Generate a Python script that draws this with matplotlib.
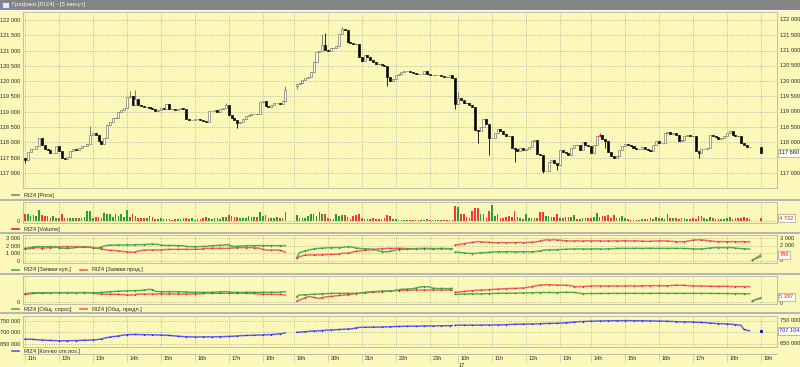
import numpy as np
import matplotlib
matplotlib.use("Agg")
import matplotlib.pyplot as plt
import matplotlib.transforms as mtransforms
from matplotlib.lines import Line2D
from matplotlib.patches import Rectangle

plt.rcParams['font.family'] = ['Liberation Sans', 'DejaVu Sans']

# ======================= DATA =======================
title_text = "Графики [RIZ4] - [5 минут]"
hour_labels = ["11h", "12h", "13h", "14h", "15h", "16h", "17h", "18h", "19h", "20h", "21h", "22h", "23h",
               "10h", "11h", "12h", "13h", "14h", "15h", "16h", "17h", "18h", "19h"]
date_label = "17"

# 5-minute candles: close prices per session (day 1, evening, day 2) + last candle
day1_close = [
    117420, 117700, 117790, 117800, 117870, 118130, 117920, 117790, 117760, 117650,
    117660, 117870, 117720, 117500, 117470, 117520, 117710, 117780, 117740, 117820,
    117870, 117880, 117950, 118250, 118300, 118250, 118040, 117950, 118130, 118560,
    118660, 118800, 118790, 119000, 119060, 119130, 119480, 119500, 119230, 119420,
    119220, 119180, 119150, 119160, 119120, 119080, 119030, 119060, 119110, 119090,
    119260, 119100, 119080, 119050, 119100, 119130, 119090, 118760, 118720, 118720,
    118760, 118770, 118740, 118690, 118680, 119010, 119040, 119070, 118990, 119100,
    119140, 119220, 118900, 118800, 118730, 118640, 118680, 118750, 118850, 118890,
    118930, 118940, 118920, 119320, 119340, 119180, 119150, 119230, 119290, 119300,
    119260, 119340, 119700]
eve_close = [
    119920, 119950, 120030, 120100, 120150, 120300, 120620, 120950, 121000, 121170,
    121030, 121000, 121080, 121100, 121160, 121550, 121700, 121680, 121270, 121250,
    121230, 121200, 120780, 120670, 120840, 120780, 120700, 120620, 120560, 120550,
    120520, 120510, 120150, 120020, 120060, 120200, 120250, 120300, 120320, 120330,
    120310, 120260, 120230, 120220, 120240, 120330, 120230, 120200, 120200, 120190,
    120190, 120170, 120140, 120130, 120200, 120120]
day2_close = [
    119240, 119450, 119400, 119300, 119280, 119210, 119150, 118420, 118370, 118500,
    118750, 118590, 118150, 118150, 118300, 118450, 118370, 118270, 118220, 118200,
    117820, 117780, 117710, 117820, 117760, 117780, 117850, 118030, 118090, 117620,
    117600, 117050, 117080, 117350, 117410, 117330, 117270, 117760, 117700, 117650,
    117600, 117820, 117930, 117920, 117760, 118000, 117920, 117870, 117650, 117920,
    118200, 118250, 118100, 118030, 117700, 117540, 117490, 117540, 117760, 117870,
    117960, 117920, 117870, 117820, 117780, 117780, 117850, 117780, 117760, 117710,
    117920, 118030, 117980, 117980, 118300, 118330, 118280, 118300, 118250, 118030,
    118090, 118220, 118250, 118220, 118200, 117710, 117670, 117780, 117780, 117820,
    118250, 118220, 118170, 118110, 118140, 118200, 118300, 118360, 118250, 118220,
    118200, 117980, 117920, 117850, 117850]
session_open = [117500, 119840, 120120]
last_open, last_close = 117840, 117660
# long shadows that stand out (candle number: (high, low))
shadows = {0: (None, 117330), 23: (118530, None), 37: (119670, None), 39: (119720, None),
           71: (119290, None), 75: (None, 118470), 92: (119850, None), 96: (None, 119730),
           105: (121540, None), 106: (121580, None), 112: (121780, None), 128: (None, 119840),
           152: (None, 119080), 153: (119650, None), 160: (None, 117990), 164: (None, 117600),
           173: (None, 117350), 183: (None, 117000), 188: (None, 117100), 203: (118320, None),
           205: (None, 117830), 238: (None, 117480)}
marked_candle = 203

# volume
day1_volume = [
    11800, 13000, 8900, 10600, 8900, 18900, 10600, 8900, 8900, 4700,
    8900, 5900, 4700, 13000, 5900, 5900, 4700, 5900, 5900,
    4700, 5900, 7100, 17700, 17700, 4700, 7100, 7100, 5900, 14800,
    13000, 13000, 7100, 13000, 8900, 11800, 7100, 18900, 7100,
    11800, 8900, 5900, 4700, 4700, 5900, 8900, 7100, 3000, 3000,
    4700, 3000, 3000, 3000, 2400, 3000, 3000, 3000, 5900,
    4700, 3000, 4700, 2400, 3000, 3000, 4700, 7100, 4700, 3000,
    5900, 4700, 3000, 7100, 7100, 10600, 8900, 7100, 7100,
    5900, 4700, 5900, 8900, 7100, 7100, 7100, 16500, 8900, 10600,
    5900, 4700, 5900, 7100, 4700, 5900, 16500]
eve_volume = [
    10600, 5900, 4700, 5900, 8900, 11800, 11800, 8900, 16500, 13000,
    11800, 4700, 3000, 3000, 11800, 8900, 10600, 10600, 7100, 3000,
    8900, 10600, 13000, 5900, 3000, 3000, 3000, 4700, 3000, 3000,
    3000, 4700, 10600, 8900, 3000, 3000, 1800, 1800, 1800, 2400,
    1800, 1800, 1800, 2400, 1800, 1800, 3000, 1800, 1800, 1800,
    2400, 1800, 1800, 1800, 2400, 1800]
day2_volume = [
    26600, 24800, 11800, 11800, 7100, 5900, 17700, 23600, 22400, 11800,
    11800, 5900, 17700, 28300, 8900, 11800, 4700, 5900, 7100, 8900,
    7100, 17700, 7100, 5900, 3000, 11800, 4700, 5900, 4700, 5900,
    16500, 16500, 8900, 8900, 7100, 7100, 13000, 5900, 4700, 7100,
    7100, 7100, 10600, 3000, 3000, 5900, 4700, 5900, 4700, 7100,
    14800, 7100, 8900, 8900, 10600, 5900, 10600, 5900, 5900, 8900,
    4700, 3000, 1800, 1800, 1800, 1800, 3000, 3000, 3000, 4700,
    3000, 7100, 5900, 4700, 3000, 11800, 5900, 4700, 5900, 3000,
    5900, 4700, 3000, 3000, 4700, 3000, 8900, 8900, 5900, 3000,
    7100, 4700, 3000, 3000, 3000, 3000, 4700, 7100, 3000, 4700,
    5900, 4700, 7100, 5900, 3000]
last_volume = 4732

# bid / ask order counts (Заявки куп. / Заявки прод.)
day1_buy_orders = [
    1650, 1700, 1760, 1850, 1880, 1900, 1880, 1870, 1880, 1890,
    1880, 1900, 1700, 1680, 1660, 1650, 1680, 1700, 1780, 1820,
    1800, 1800, 1790, 1790, 1760, 1680, 1700, 1850, 1950, 2050,
    2080, 2100, 2100, 2110, 2090, 2100, 2120, 2110, 2100, 2150,
    2150, 2140, 2160, 2190, 2200, 2230, 2200, 2180, 2080, 2060,
    2040, 2040, 2050, 2040, 2030, 2020, 2000, 1900, 1880, 1880,
    1870, 1880, 1890, 1900, 1900, 1980, 2000, 2020, 2050, 2070,
    2080, 2150, 2120, 1960, 1900, 1920, 1950, 1980, 2000, 2020,
    2020, 2010, 2020, 2030, 2030, 2020, 2020, 2030, 2020, 2010,
    2020, 2020, 2030]
eve_buy_orders = [
    400, 1100, 1200, 1300, 1400, 1500, 1580, 1620, 1650, 1680,
    1700, 1720, 1750, 1750, 1760, 1750, 1780, 1820, 1880, 1860,
    1780, 1700, 1650, 1620, 1600, 1580, 1560, 1500, 1450, 1300,
    1220, 1200, 1200, 1250, 1350, 1430, 1480, 1500, 1530, 1550,
    1560, 1580, 1600, 1600, 1610, 1620, 1600, 1580, 1600, 1610,
    1600, 1620, 1630, 1610, 1600, 1620]
day2_buy_orders = [
    1120, 1150, 1100, 1050, 1000, 980, 960, 990, 1000, 1050,
    1080, 1100, 1120, 1150, 1180, 1200, 1190, 1180, 1200, 1210,
    1200, 1180, 1190, 1200, 1210, 1200, 1190, 1200, 1220, 1250,
    1300, 1380, 1430, 1450, 1460, 1470, 1480, 1500, 1520, 1540,
    1560, 1570, 1560, 1570, 1580, 1570, 1560, 1570, 1580, 1590,
    1580, 1570, 1560, 1570, 1580, 1600, 1620, 1650, 1640, 1650,
    1660, 1650, 1640, 1650, 1660, 1650, 1640, 1650, 1660, 1670,
    1650, 1640, 1650, 1660, 1650, 1640, 1650, 1660, 1650, 1640,
    1650, 1640, 1620, 1600, 1580, 1560, 1570, 1580, 1600, 1650,
    1700, 1730, 1750, 1760, 1750, 1740, 1750, 1760, 1740, 1700,
    1650, 1620, 1600, 1580, 1570]
last_buy_orders = [80, 560]
day1_sell_orders = [
    1570, 1600, 1620, 1700, 1740, 1750, 1600, 1700, 1740, 1750,
    1760, 1780, 1820, 1870, 1880, 1890, 1900, 1880, 1860, 1880,
    1880, 1870, 1850, 1840, 1700, 1660, 1640, 1600, 1500, 1430,
    1400, 1380, 1350, 1300, 1250, 1220, 1180, 1150, 1120, 1160,
    1300, 1350, 1400, 1430, 1440, 1430, 1450, 1440, 1430, 1480,
    1500, 1520, 1520, 1510, 1520, 1520, 1530, 1520, 1510, 1520,
    1520, 1530, 1540, 1600, 1650, 1650, 1640, 1660, 1650, 1660,
    1650, 1640, 1670, 1700, 1720, 1740, 1750, 1760, 1740, 1750,
    1760, 1700, 1680, 1650, 1520, 1440, 1420, 1430, 1440, 1430,
    1400, 1300, 1120]
eve_sell_orders = [
    310, 540, 650, 760, 760, 780, 770, 760, 780, 800,
    820, 830, 840, 850, 870, 900, 990, 1000, 1000, 1050,
    1200, 1250, 1300, 1350, 1400, 1430, 1450, 1500, 1550, 1580,
    1600, 1620, 1650, 1650, 1640, 1650, 1660, 1650, 1640, 1620,
    1610, 1600, 1620, 1630, 1620, 1640, 1650, 1630, 1620, 1610,
    1620, 1640, 1620, 1600, 1610, 1600]
day2_sell_orders = [
    2100, 2150, 2200, 2280, 2350, 2400, 2450, 2500, 2550, 2540,
    2500, 2480, 2450, 2420, 2400, 2420, 2430, 2420, 2400, 2410,
    2420, 2430, 2450, 2440, 2420, 2430, 2450, 2480, 2500, 2550,
    2650, 2720, 2780, 2790, 2780, 2800, 2780, 2750, 2700, 2680,
    2650, 2640, 2650, 2660, 2640, 2630, 2650, 2660, 2640, 2650,
    2660, 2650, 2640, 2630, 2650, 2640, 2660, 2650, 2640, 2660,
    2670, 2650, 2640, 2650, 2660, 2640, 2620, 2600, 2580, 2600,
    2620, 2640, 2650, 2660, 2650, 2640, 2600, 2580, 2560, 2550,
    2550, 2560, 2600, 2680, 2750, 2780, 2800, 2780, 2750, 2700,
    2650, 2600, 2580, 2560, 2550, 2560, 2550, 2540, 2560, 2550,
    2540, 2550, 2560, 2540, 2530]
last_sell_orders = [40, 789]

# total demand / supply (Общ. спрос / Общ. предл.)
day1_total_bid = [
    10400, 10800, 11200, 11600, 11600, 11700, 11600, 11600, 11700, 11600,
    11600, 11700, 11600, 11600, 11700, 11600, 11600, 11700, 11600, 11700,
    11700, 11800, 11700, 11600, 11700, 11700, 11800, 12000, 12300, 12700,
    12900, 13100, 13300, 13500, 13700, 13900, 14100, 14200, 14200, 14300,
    14300, 14600, 15000, 15500, 15900, 15600, 13500, 13000, 12900, 12900,
    12900, 12900, 13000, 12900, 12900, 12800, 12800, 12500, 12300, 12100,
    12100, 12100, 12100, 12000, 12100, 12100, 12200, 12300, 12500, 12700,
    12900, 13200, 12500, 12200, 12100, 12100, 12000, 12100, 12100, 12200,
    12100, 12100, 12000, 12100, 12100, 12100, 12000, 12100, 12100, 12200,
    12300, 12500, 12900]
eve_total_bid = [
    6500, 8600, 8800, 9000, 9200, 9400, 9600, 9900, 10000, 10200,
    10300, 10500, 10700, 10800, 10800, 10900, 10800, 10800, 10900, 10800,
    10800, 10900, 11000, 11500, 12000, 12500, 12800, 13000, 13200, 13500,
    13700, 13800, 13800, 13900, 14200, 14800, 15500, 16000, 16200, 16300,
    16500, 16800, 17500, 18500, 19200, 19400, 19300, 19000, 17500, 17200,
    17000, 17100, 17000, 16900, 17000, 17200]
day2_total_bid = [
    9500, 9700, 9900, 10000, 10000, 10100, 10000, 10100, 10200, 10200,
    10300, 10400, 10500, 10600, 10700, 10800, 10800, 10900, 10800, 10900,
    10900, 11000, 11100, 11200, 11300, 11400, 11500, 11600, 11700, 11800,
    11800, 11900, 11800, 11900, 11800, 11700, 11800, 11900, 12000, 12100,
    12000, 12100, 12000, 11500, 10800, 10500, 10400, 10500, 10600, 10500,
    10600, 10700, 10600, 10700, 10600, 10700, 10800, 10700, 10800, 10700,
    10800, 10700, 10800, 10800, 10700, 10800, 10700, 10800, 10700, 10800,
    10800, 10700, 10800, 10900, 10800, 10700, 10800, 10700, 10800, 10800,
    10700, 10800, 10700, 10800, 10800, 10700, 10800, 10700, 10800, 10700,
    10800, 10700, 10600, 10700, 10600, 10500, 10600, 10500, 10400, 10500,
    10400, 10300, 10400, 10300, 10200]
last_total_bid = [1300, 4200]
day1_total_ask = [
    9500, 9800, 10300, 10800, 10800, 10900, 10800, 11000, 11300, 11600,
    11600, 11700, 11600, 11700, 11600, 11700, 11700, 11600, 11700, 11600,
    11700, 11600, 11600, 11500, 11200, 10500, 10000, 9900, 9800, 9700,
    9600, 9500, 9500, 9400, 9200, 9000, 8700, 8600, 8700, 9200,
    9700, 9900, 9900, 9900, 9900, 10000, 9900, 9900, 10000, 9900,
    9900, 9900, 10000, 9900, 9900, 9900, 10000, 9900, 9900, 10000,
    10000, 10100, 10300, 10600, 10800, 10800, 10700, 10800, 10800, 10800,
    10900, 10800, 10800, 10700, 10800, 10800, 10900, 10800, 10800, 10700,
    10700, 10600, 10200, 9800, 9500, 9500, 9400, 9500, 9500, 9400,
    9300, 9000, 8600]
eve_total_ask = [
    900, 2200, 3500, 5000, 6500, 6400, 5500, 4800, 4400, 5200,
    6000, 6500, 6800, 7200, 7600, 8000, 8300, 8600, 9000, 9500,
    10000, 10400, 10800, 11000, 11300, 11700, 12000, 12200, 12500, 12800,
    13000, 13200, 13500, 13800, 14000, 14200, 14400, 14500, 14600, 14800,
    14900, 15000, 15000, 15100, 15100, 15000, 15100, 15200, 15100, 15000,
    15100, 15000, 15100, 15000, 15100, 15000]
day2_total_ask = [
    12100, 12400, 12800, 13200, 13600, 14000, 14300, 14600, 14900, 15000,
    15100, 15300, 15500, 15800, 16000, 16200, 16500, 16700, 16900, 17000,
    17100, 17200, 17300, 17500, 17800, 18200, 18800, 19500, 20200, 20900,
    21300, 21600, 21900, 22000, 21800, 21600, 21500, 21400, 21300, 21200,
    21000, 20500, 19600, 19400, 19500, 19600, 19800, 20000, 20200, 20300,
    20300, 20400, 20300, 20200, 20300, 20400, 20300, 20400, 20300, 20200,
    20300, 20400, 20500, 20400, 20300, 20400, 20500, 20600, 20700, 20600,
    20700, 20800, 20700, 20600, 20500, 20600, 20800, 21000, 21200, 21300,
    21200, 21000, 20800, 20600, 20400, 20300, 20400, 20300, 20200, 20100,
    20000, 19900, 19800, 19700, 19800, 19900, 19700, 19600, 19500, 19600,
    19500, 19400, 19500, 19400, 19300]
last_total_ask = [900, 5397]

# open interest (Кол-во отк.поз.)
day1_oi = [
    670600, 670000, 669500, 669000, 668000, 667000, 666500, 665500, 665000, 664500,
    664000, 663500, 663000, 663000, 663200, 663000, 663500, 663800, 664000, 664500,
    665000, 665500, 666000, 666000, 666500, 667500, 669000, 671000, 674000, 677000,
    679000, 681000, 682000, 684000, 686000, 688000, 689000, 690000, 690000, 690500,
    690000, 690000, 689500, 689500, 689000, 689000, 688500, 688000, 688000, 687500,
    687000, 686000, 685000, 684000, 683000, 682000, 681000, 680500, 680000, 680000,
    679500, 679500, 680000, 680000, 680000, 680500, 680000, 680000, 680500, 681000,
    681000, 681500, 682000, 682500, 683000, 684000, 685000, 685500, 686000, 686500,
    687000, 687000, 688000, 688000, 688500, 689000, 689000, 690000, 691000, 692000,
    693000, 695000, 697000]
eve_oi = [
    699500, 700500, 701500, 702500, 703500, 704500, 705500, 706000, 706500, 707500,
    708500, 709500, 710000, 710500, 711000, 712000, 712500, 713500, 714000, 714500,
    716000, 719000, 721000, 721500, 721500, 722000, 722000, 722500, 722000, 722500,
    723000, 723000, 723500, 724000, 724500, 725000, 725000, 725500, 725500, 726000,
    726000, 726500, 726000, 726500, 727000, 727000, 727500, 727500, 727000, 727500,
    728000, 728000, 728500, 728000, 728500, 729000]
day2_oi = [
    730000, 730500, 731000, 731000, 730500, 731000, 731000, 730500, 731000, 731000,
    731500, 731500, 731000, 731500, 731500, 732000, 732000, 732500, 733000, 733500,
    734000, 734500, 735000, 735000, 735500, 735500, 736000, 736000, 736500, 736500,
    737000, 737500, 738000, 738000, 738500, 738500, 739000, 739500, 740000, 741000,
    742000, 743000, 744000, 745000, 746000, 746500, 747000, 747500, 748000, 748000,
    748500, 749000, 749000, 749500, 749500, 750000, 750000, 750500, 750000, 750000,
    750000, 750500, 750000, 750000, 749500, 750000, 750000, 749500, 749500, 749000,
    749000, 748500, 748500, 748000, 748000, 747500, 747000, 746500, 746000, 745500,
    745500, 745000, 745000, 744500, 744000, 743500, 743000, 742500, 742000, 741000,
    740000, 739000, 738000, 737500, 737000, 736500, 736000, 735000, 734000, 733000,
    731500, 730000, 712000, 709000, 706500]
last_oi = 707104

# ======================= LAYOUT =======================
W, H = 800, 367
BG = '#FCF8BA'
GRID = '#A9A89C'
TXT = '#2A2A2A'
FS = 4.1
GREEN, GREEN_D = '#52AE52', '#128A12'
RED, RED_D = '#F26060', '#E01010'
BLUE, BLUE_D = '#5A5AF0', '#1010E0'

# candle slot positions for each session (x axis = 5-minute slot number)
day1_x = np.arange(0, len(day1_close))
eve_x = np.arange(96, 96 + len(eve_close))
day2_x = np.arange(152, 152 + len(day2_close))
last_x = 260
last_seg_x = np.array([257, 260])
hour_pos = [0, 12, 24, 36, 48, 60, 72, 84, 95, 107, 119, 131, 143,
            153, 165, 177, 189, 200, 212, 224, 236, 248, 260]
XMIN, XMAX = -0.7, 265.7

fig = plt.figure(figsize=(W / 100, H / 100), dpi=100, facecolor=BG)


def rect(x0, y0, x1, y1):
    return [x0 / W, 1 - y1 / H, (x1 - x0) / W, (y1 - y0) / H]


def fmt(v):
    return f"{int(v):,}".replace(",", " ")


def style(ax, yticks, ylim, left_labels, right_labels):
    ax.set_facecolor(BG)
    ax.set_xlim(XMIN, XMAX)
    ax.set_ylim(*ylim)
    ax.set_xticks(hour_pos)
    ax.set_yticks(yticks)
    ax.set_yticklabels([fmt(v) if v in left_labels else "" for v in yticks])
    ax.tick_params(axis='x', bottom=False, labelbottom=False)
    ax.tick_params(axis='y', length=0, labelsize=FS, labelcolor=TXT,
                   labelleft=True, labelright=False, pad=2.0)
    ax.grid(True, color=GRID, linestyle=(0, (1, 1.6)), linewidth=0.6)
    ax.set_axisbelow(True)
    for s in ax.spines.values():
        s.set_color('#B8B6A8')
        s.set_linewidth(0.6)
    tr = mtransforms.blended_transform_factory(ax.transAxes, ax.transData)
    for v in right_labels:
        ax.text(1.004, v, fmt(v), transform=tr, ha='left', va='center',
                fontsize=FS, color=TXT, clip_on=False)


def value_box(ax, y, text, color):
    tr = mtransforms.blended_transform_factory(ax.transAxes, ax.transData)
    ax.text(1.003, y, text, transform=tr, ha='left', va='center', fontsize=FS,
            color=color, clip_on=False, zorder=10,
            bbox=dict(boxstyle='square,pad=0.25', facecolor='#FFFFF4',
                      edgecolor='#A0A0A0', linewidth=0.5))


# --- title bar ---
fig.add_artist(Rectangle((0, 1 - 9.5 / H), 1, 9.5 / H, transform=fig.transFigure,
                         facecolor='#848484', edgecolor='none', zorder=0))
fig.add_artist(Rectangle((2 / W, 1 - 8 / H), 7 / W, 6 / H, transform=fig.transFigure,
                         facecolor='#E8E8E8', edgecolor='#5070C0', linewidth=0.4))
fig.add_artist(Line2D([0, 1], [1 - 10 / H, 1 - 10 / H], transform=fig.transFigure,
                      color='#F4F4F0', linewidth=0.8))
fig.text(12 / W, 1 - 4.8 / H, title_text, fontsize=4.4, color='#EEEEEE',
         ha='left', va='center')

# --- price panel ---
price_ticks = list(range(117000, 122001, 500))
ax_p = fig.add_axes(rect(23, 12, 777, 188))
style(ax_p, price_ticks, (116510, 122261), price_ticks,
      [v for v in price_ticks if v != 117500])

sess_x = [day1_x, eve_x, day2_x, np.array([last_x])]
sess_close = [np.array(day1_close), np.array(eve_close), np.array(day2_close),
              np.array([last_close])]
sess_open_first = session_open + [last_open]
all_x, all_o, all_c = [], [], []
for xs, cl, op0 in zip(sess_x, sess_close, sess_open_first):
    op = np.concatenate([[op0], cl[:-1]])
    all_x.append(xs)
    all_o.append(op)
    all_c.append(cl)
all_x = np.concatenate(all_x)
all_o = np.concatenate(all_o).astype(float)
all_c = np.concatenate(all_c).astype(float)
up = all_c >= all_o
body_lo = np.minimum(all_o, all_c)
body_hi = np.maximum(all_o, all_c)
highs = body_hi.copy()
lows = body_lo.copy()
for k, (hi, lo) in shadows.items():
    j = np.where(all_x == k)[0]
    if len(j):
        if hi is not None:
            highs[j[0]] = hi
        if lo is not None:
            lows[j[0]] = lo

face = np.where(up, '#FFFFEA', '#000000').astype(object)
edge = np.where(up, '#6C6C64', '#000000').astype(object)
wick = np.where(up, '#6C6C64', '#000000').astype(object)
for j in np.where(all_x == marked_candle)[0]:
    face[j] = '#FF1A1A'
    edge[j] = '#E00000'
    wick[j] = '#E00000'

ax_p.vlines(all_x, lows, highs, colors=list(wick), linewidth=0.6, zorder=2)
ax_p.bar(all_x, np.maximum(body_hi - body_lo, 8), bottom=body_lo, width=0.72,
         color=list(face), edgecolor=list(edge), linewidth=0.45, zorder=3)
value_box(ax_p, last_close, fmt(last_close), '#202020')

# --- volume panel ---
ax_v = fig.add_axes(rect(23, 202, 777, 223))
style(ax_v, [0], (-3540, 33630), [0], [])
vol = np.concatenate([day1_volume, eve_volume, day2_volume, [last_volume]])
vcol = np.where(up, '#2E9C2E', '#F03A3A')
ax_v.bar(all_x, vol, width=0.58, color=list(vcol), linewidth=0, zorder=3)
value_box(ax_v, last_volume, fmt(last_volume), '#F02020')


def draw_series(ax, segments, line_c, mark_c):
    for xs, ys in segments:
        ax.plot(xs, ys, color=line_c, linewidth=1.05, zorder=3)
        ax.plot(xs, ys, linestyle='none', marker='s', markersize=0.9,
                markeredgewidth=0, color=mark_c, markevery=3, zorder=4)


# --- orders panel ---
ax_o = fig.add_axes(rect(23, 235, 777, 263))
style(ax_o, [0, 1000, 2000, 3000], (-310, 3440), [0, 1000, 2000, 3000], [0, 2000, 3000])
draw_series(ax_o, [(day1_x, day1_sell_orders), (eve_x, eve_sell_orders),
                   (day2_x, day2_sell_orders), (last_seg_x, last_sell_orders)], RED, RED_D)
draw_series(ax_o, [(day1_x, day1_buy_orders), (eve_x, eve_buy_orders),
                   (day2_x, day2_buy_orders), (last_seg_x, last_buy_orders)], GREEN, GREEN_D)
value_box(ax_o, last_sell_orders[-1], fmt(last_sell_orders[-1]), '#F02020')

# --- total bid/ask panel ---
ax_t = fig.add_axes(rect(23, 276, 777, 304))
style(ax_t, [0], (-2970, 33150), [0], [])
draw_series(ax_t, [(day1_x, day1_total_ask), (eve_x, eve_total_ask),
                   (day2_x, day2_total_ask), (last_seg_x, last_total_ask)], RED, RED_D)
draw_series(ax_t, [(day1_x, day1_total_bid), (eve_x, eve_total_bid),
                   (day2_x, day2_total_bid), (last_seg_x, last_total_bid)], GREEN, GREEN_D)
value_box(ax_t, last_total_ask[-1] + 1200, fmt(last_total_ask[-1]), '#F02020')
tr_t = mtransforms.blended_transform_factory(ax_t.transAxes, ax_t.transData)
ax_t.text(1.004, -2400, "0", transform=tr_t, ha='left', va='center', fontsize=FS,
          color=TXT, clip_on=False)

# --- open interest panel ---
ax_i = fig.add_axes(rect(23, 316, 777, 347))
style(ax_i, [650000, 700000, 750000], (636120, 770350),
      [650000, 700000, 750000], [650000, 750000])
draw_series(ax_i, [(day1_x, day1_oi), (eve_x, eve_oi), (day2_x, day2_oi)], BLUE, BLUE_D)
ax_i.plot([last_x], [last_oi], marker='s', markersize=1.2, color=BLUE_D, linestyle='none')
value_box(ax_i, last_oi, fmt(last_oi), '#2020F0')

# --- time axis bar ---
ax_x = fig.add_axes(rect(23, 354, 777, 367))
ax_x.set_facecolor(BG)
ax_x.set_xlim(XMIN, XMAX)
ax_x.set_ylim(0, 1)
ax_x.set_xticks([])
ax_x.set_yticks([])
for s in ax_x.spines.values():
    s.set_visible(False)
ax_x.spines['top'].set_visible(True)
ax_x.spines['top'].set_color('#B8B6A8')
ax_x.spines['top'].set_linewidth(0.6)
ax_x.vlines(hour_pos, 0.35, 1.0, colors='#C8C6B4', linewidth=0.6)
for p, lab in zip(hour_pos, hour_labels):
    ax_x.text(p + 0.9, 0.68, lab, fontsize=FS, color=TXT, ha='left', va='center')
ax_x.text(hour_pos[13] + 0.2, 0.08, date_label, fontsize=FS, color=TXT,
          ha='left', va='center')

# --- panel separators ---
for yy in (199.5, 232.5, 273.5, 312.5):
    fig.add_artist(Line2D([0, 1], [1 - yy / H, 1 - yy / H], transform=fig.transFigure,
                          color='#A2A2B6', linewidth=1.1))


# --- legends ---
def legend(y, items):
    for x0, color, text in items:
        fig.add_artist(Line2D([x0 / W, (x0 + 7) / W], [1 - y / H, 1 - y / H],
                              transform=fig.transFigure, color=color, linewidth=1.2))
        fig.text((x0 + 12) / W, 1 - y / H, text, fontsize=FS, color=TXT,
                 ha='left', va='center')


legend(195, [(12, '#808080', 'RIZ4 [Price]')])
legend(229, [(12, '#F02020', 'RIZ4 [Volume]')])
legend(270, [(12, GREEN, 'RIZ4 [Заявки куп.]'), (80, RED, 'RIZ4 [Заявки прод.]')])
legend(309, [(12, GREEN, 'RIZ4 [Общ. спрос]'), (80, RED, 'RIZ4 [Общ. предл.]')])
legend(351, [(12, BLUE, 'RIZ4 [Кол-во отк.поз.]')])

fig.savefig('out.png', dpi=100, facecolor=BG)
